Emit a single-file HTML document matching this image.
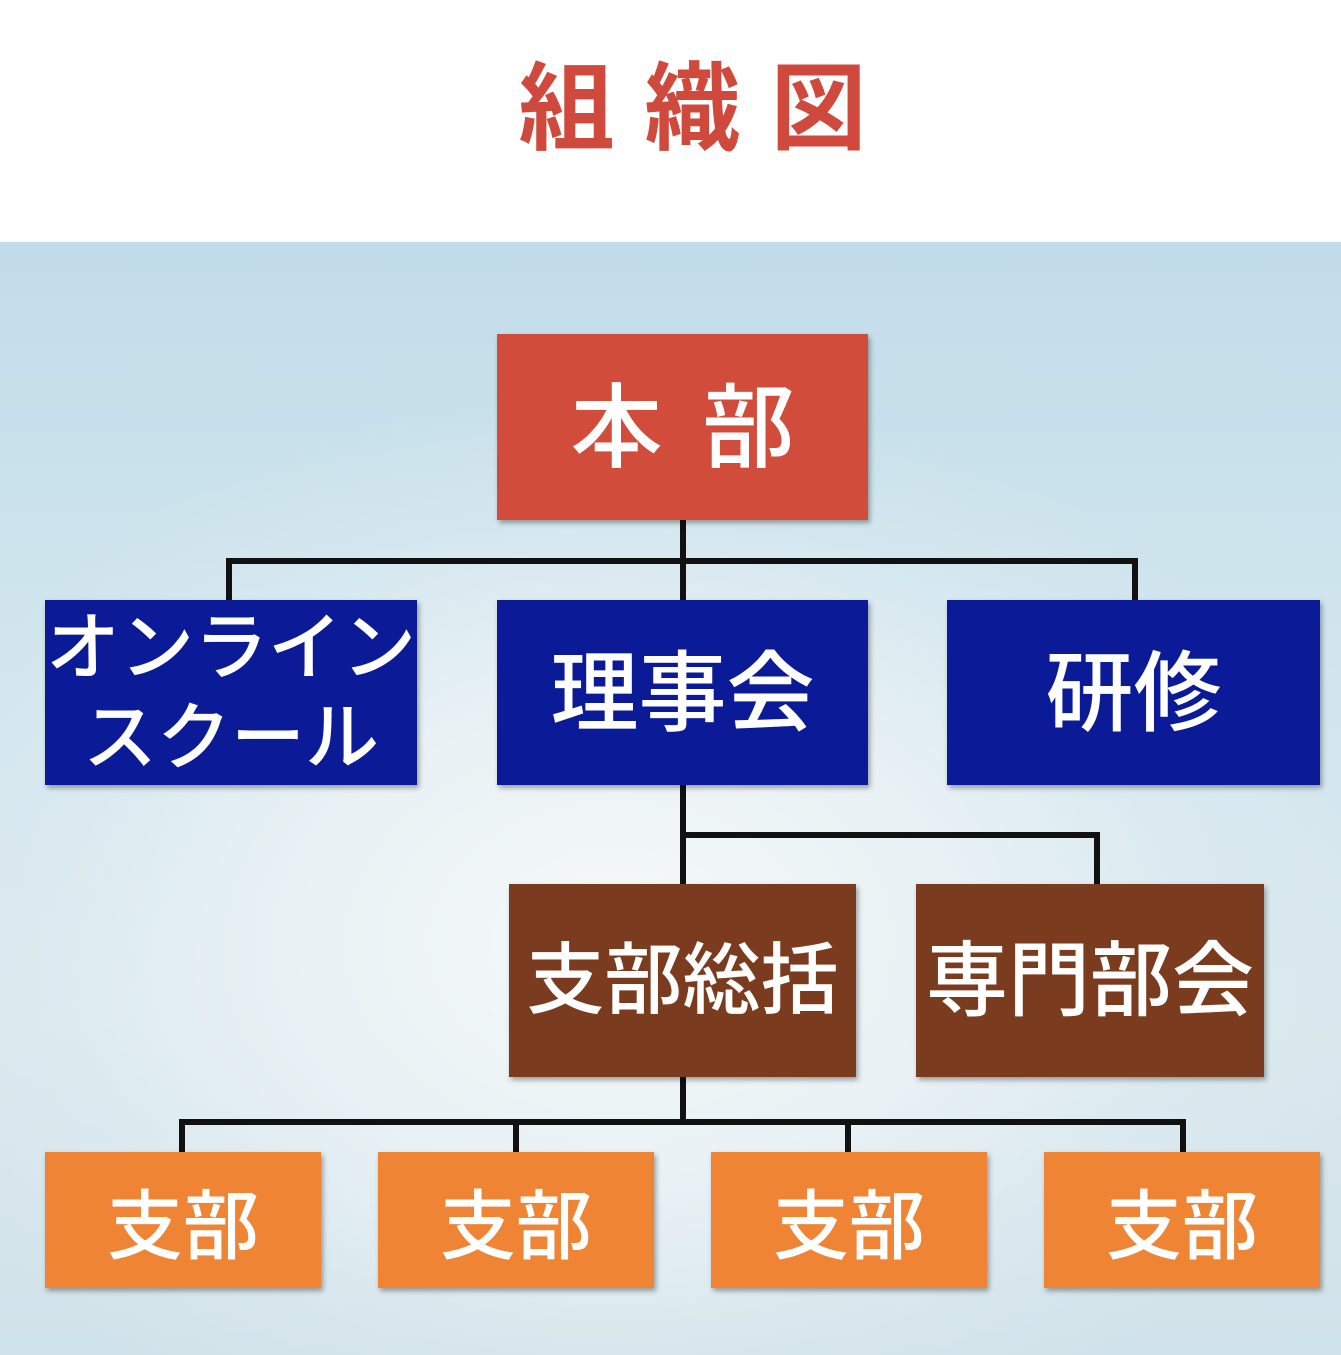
<!DOCTYPE html>
<html><head><meta charset="utf-8"><style>
body{margin:0;width:1341px;height:1355px;position:relative;overflow:hidden;font-family:"Liberation Sans","Noto Sans CJK JP",sans-serif;background:#fff}
.bg{position:absolute;left:0;top:242px;width:1341px;height:1113px;
background:radial-gradient(ellipse 750px 550px at 620px 700px,#f6f9fa 0%,#e8f1f4 45%,rgba(215,232,240,0.6) 75%,rgba(190,218,230,0.3) 100%),linear-gradient(180deg,#c3deea 0%,#dbebf1 40%,#e6eff2 70%,#d8e5ea 100%)}
.t{position:absolute;left:22px;top:55px;width:1341px;text-align:center;color:#cf4a3c;font-size:96px;font-weight:bold;letter-spacing:30px;text-indent:30px;line-height:110px}
.b{position:absolute;color:#fff;display:flex;align-items:center;justify-content:center;text-align:center;box-shadow:2px 3px 5px rgba(0,0,0,0.35);font-weight:500}
.l{position:absolute;background:#111}
</style></head><body>
<div class="t">組織図</div>
<div class="bg"></div>
<div class="l" style="left:680px;top:520px;width:6px;height:82px"></div>
<div class="l" style="left:226px;top:558px;width:912px;height:6px"></div>
<div class="l" style="left:226px;top:558px;width:6px;height:44px"></div>
<div class="l" style="left:1132px;top:558px;width:6px;height:44px"></div>
<div class="l" style="left:680px;top:785px;width:6px;height:100px"></div>
<div class="l" style="left:680px;top:832px;width:420px;height:6px"></div>
<div class="l" style="left:1094px;top:832px;width:6px;height:53px"></div>
<div class="l" style="left:680px;top:1077px;width:6px;height:48px"></div>
<div class="l" style="left:179px;top:1119px;width:1007px;height:6px"></div>
<div class="l" style="left:179px;top:1119px;width:6px;height:34px"></div>
<div class="l" style="left:513px;top:1119px;width:6px;height:34px"></div>
<div class="l" style="left:845px;top:1119px;width:6px;height:34px"></div>
<div class="l" style="left:1180px;top:1119px;width:6px;height:34px"></div>
<div class="b" style="left:497px;top:334px;width:371px;height:186px;background:#d24c3b;font-size:92px;letter-spacing:40px;text-indent:40px;padding-bottom:14px;box-sizing:border-box">本部</div>
<div class="b" style="left:45px;top:600px;width:372px;height:185px;background:#0b1a96;font-size:74px;line-height:90px">オンライン<br>スクール</div>
<div class="b" style="left:497px;top:600px;width:371px;height:185px;background:#0b1a96;font-size:88px;padding-bottom:12px;box-sizing:border-box">理事会</div>
<div class="b" style="left:947px;top:600px;width:373px;height:185px;background:#0b1a96;font-size:88px;padding-bottom:12px;box-sizing:border-box">研修</div>
<div class="b" style="left:509px;top:884px;width:347px;height:193px;background:#7a3b1f;font-size:78px;padding-bottom:14px;box-sizing:border-box">支部総括</div>
<div class="b" style="left:916px;top:884px;width:348px;height:193px;background:#7a3b1f;font-size:82px;padding-bottom:14px;box-sizing:border-box">専門部会</div>
<div class="b" style="left:45px;top:1152px;width:276px;height:136px;background:#ee8434;font-size:76px">支部</div>
<div class="b" style="left:378px;top:1152px;width:276px;height:136px;background:#ee8434;font-size:76px">支部</div>
<div class="b" style="left:711px;top:1152px;width:276px;height:136px;background:#ee8434;font-size:76px">支部</div>
<div class="b" style="left:1044px;top:1152px;width:276px;height:136px;background:#ee8434;font-size:76px">支部</div>
</body></html>
